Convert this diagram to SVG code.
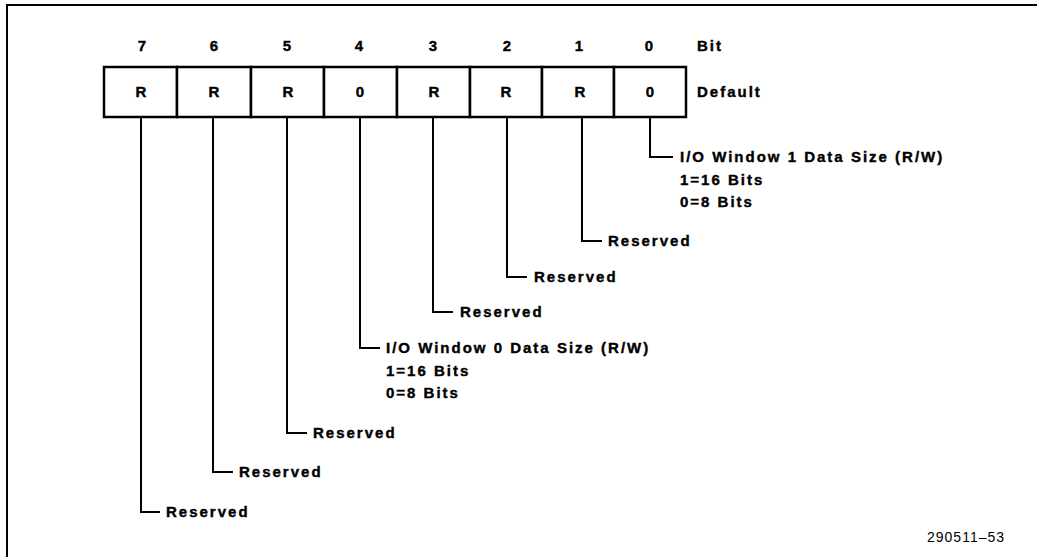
<svg xmlns="http://www.w3.org/2000/svg" width="1037" height="557" viewBox="0 0 1037 557">
<style>
.t{font-family:"Liberation Sans",Arial,sans-serif;font-weight:bold;font-size:15px;letter-spacing:2px;fill:#000;stroke:#000;stroke-width:0.4}
.h{font-family:"Liberation Sans",Arial,sans-serif;font-weight:bold;font-size:15px;fill:#000;stroke:#000;stroke-width:0.4;text-anchor:middle}
.f{font-family:"Liberation Sans",Arial,sans-serif;font-size:14px;letter-spacing:1px;fill:#000}
.c{fill:#fff;stroke:#000;stroke-width:2.5}
.w{fill:none;stroke:#000;stroke-width:2}
</style>
<rect width="1037" height="557" fill="#fff"/>
<g id="frame"><path class="w" d="M7 557V5H1037"/></g>
<g id="header">
<text class="h" x="142" y="51">7</text>
<text class="h" x="214" y="51">6</text>
<text class="h" x="287" y="51">5</text>
<text class="h" x="359" y="51">4</text>
<text class="h" x="433" y="51">3</text>
<text class="h" x="507" y="51">2</text>
<text class="h" x="579" y="51">1</text>
<text class="h" x="649" y="51">0</text>
<text class="t" x="697" y="51">Bit</text>
<text class="t" x="697" y="97">Default</text>
</g>
<g id="register">
<g id="bit7"><rect class="c" x="104" y="67" width="73" height="50"/><text class="h" x="141" y="97">R</text></g>
<g id="bit6"><rect class="c" x="177" y="67" width="74" height="50"/><text class="h" x="214" y="97">R</text></g>
<g id="bit5"><rect class="c" x="251" y="67" width="73" height="50"/><text class="h" x="288" y="97">R</text></g>
<g id="bit4"><rect class="c" x="324" y="67" width="73" height="50"/><text class="h" x="360" y="97">0</text></g>
<g id="bit3"><rect class="c" x="397" y="67" width="73" height="50"/><text class="h" x="434" y="97">R</text></g>
<g id="bit2"><rect class="c" x="470" y="67" width="72" height="50"/><text class="h" x="506" y="97">R</text></g>
<g id="bit1"><rect class="c" x="542" y="67" width="72" height="50"/><text class="h" x="580" y="97">R</text></g>
<g id="bit0"><rect class="c" x="614" y="67" width="72" height="50"/><text class="h" x="650" y="97">0</text></g>
</g>
<g id="connectors">
<path class="w" d="M141 117V512H160"/>
<path class="w" d="M213 117V472H233"/>
<path class="w" d="M287 117V433H307"/>
<path class="w" d="M360 117V348H380"/>
<path class="w" d="M433 117V312H453"/>
<path class="w" d="M507 117V277H527"/>
<path class="w" d="M582 117V241H602"/>
<path class="w" d="M650 117V157H673"/>
</g>
<g id="labels">
<g id="label0"><text class="t" x="680" y="162">I/O Window 1 Data Size (R/W)</text><text class="t" x="680" y="185">1=16 Bits</text><text class="t" x="680" y="207">0=8 Bits</text></g>
<g id="label1"><text class="t" x="608" y="246">Reserved</text></g>
<g id="label2"><text class="t" x="534" y="282">Reserved</text></g>
<g id="label3"><text class="t" x="460" y="317">Reserved</text></g>
<g id="label4"><text class="t" x="386" y="353">I/O Window 0 Data Size (R/W)</text><text class="t" x="386" y="376">1=16 Bits</text><text class="t" x="386" y="398">0=8 Bits</text></g>
<g id="label5"><text class="t" x="313" y="438">Reserved</text></g>
<g id="label6"><text class="t" x="239" y="477">Reserved</text></g>
<g id="label7"><text class="t" x="166" y="517">Reserved</text></g>
</g>
<text class="f" x="927" y="542">290511–53</text>
</svg>
